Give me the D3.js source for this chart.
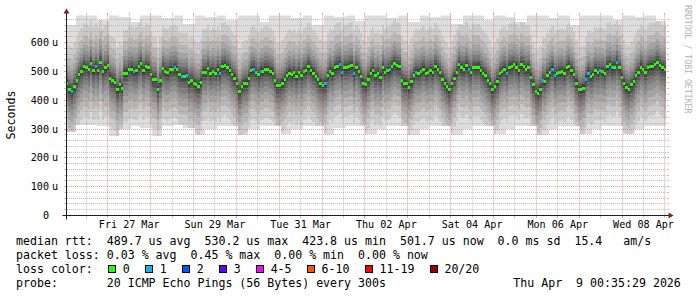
<!DOCTYPE html>
<html><head><meta charset="utf-8">
<script src="https://cdn.jsdelivr.net/npm/d3@7"></script>
<style>
body{margin:0;background:#fff}
svg{display:block}
text{font-family:"DejaVu Sans Mono",monospace;fill:#000}
</style>
</head><body>
<svg id="chart" width="697" height="297"></svg>
<script>
// ---------------- data ----------------
// median RTT in microseconds, evenly spaced over the 14-day window
const median = [
459,438,430,448,469,488,500,517,512,506,529,503,517,503,531,500,512,520,477,469,463,436,453,442,494,494,506,508,500,503,517,527,503,517,512,488,473,471,436,469,509,500,497,506,508,512,506,488,483,483,485,463,469,459,453,448,463,497,497,510,494,
500,494,508,494,517,520,512,503,488,477,459,430,448,457,459,477,503,506,497,488,501,500,508,508,500,494,469,450,450,459,471,485,494,488,497,483,497,485,500,503,517,503,494,483,471,459,450,457,485,500,494,512,517,523,497,512,512,517,520,492,512,500,
483,459,453,473,494,503,485,492,480,512,497,503,506,517,527,520,517,469,459,457,445,465,485,497,494,500,508,494,497,503,497,517,508,497,473,459,448,436,457,477,497,523,512,508,520,506,497,515,512,515,503,494,485,469,459,436,448,465,492,500,508,494,515,
517,523,515,503,523,517,508,512,480,453,430,424,438,469,465,485,497,508,485,492,497,500,494,512,517,503,488,459,438,436,442,473,492,483,488,503,497,503,500,494,517,523,512,515,531,512,480,459,445,438,453,465,485,497,515,508,497,512,517,517,523,531,520,512,506
];
// samples where 1 of 20 pings was lost (all others: 0 lost)
const lossOneIdx = [2,12,28,45,48,50,64,78,81,108,114,115,120,135,146,168,184,199,203,204,217,218,223,228,230];

// smoke outer edges (fastest / slowest ping), one value per 6-hour bucket, microseconds
const smokeBottom = [
290,315,315,310,275,300,312,305,275,312,315,305,280,300,
312,310,280,300,312,310,282,300,312,310,280,302,312,310,
282,300,312,310,280,300,312,310,280,300,312,310,282,300,
312,310,278,300,312,310,282,300,312,310,282,300,312,310];
const smokeTop = [
660,695,700,680,700,690,670,700,700,685,700,665,700,690,
700,680,700,700,670,695,700,685,700,660,700,690,700,675,
700,700,685,700,670,700,690,700,665,700,700,680,700,690,
670,700,700,685,700,660,700,695,700,680,700,690,700,675];
// typical distance of the sorted pings 2..10 below / 11..19 above the median (µs)
const lowerOffsets = [170,135,105,80,60,42,28,16,7];
const upperOffsets = [150,110,80,60,45,32,22,13,6];

const yTickValues = [0,100,200,300,400,500,600];
const yTickLabels = ["0","100","200","300","400","500","600"];
const yTickUnit = "u";
const xLabelDates = ["2026-03-27T12:00","2026-03-29T12:00","2026-03-31T12:00","2026-04-02T12:00","2026-04-04T12:00","2026-04-06T12:00","2026-04-08T12:00"];
const xLabelTexts = ["Fri 27 Mar","Sun 29 Mar","Tue 31 Mar","Thu 02 Apr","Sat 04 Apr","Mon 06 Apr","Wed 08 Apr"];

const lossLabels = ["0","1","2","3","4-5","6-10","11-19","20/20"];
const lossColors = ["#26ff00","#00b8ff","#0059ff","#5e00ff","#ff00ff","#ff5500","#ff0000","#a10000"];

const legendLines = [
  "median rtt:  489.7 us avg  530.2 us max  423.8 us min  501.7 us now  0.0 ms sd  15.4   am/s",
  "packet loss: 0.03 % avg  0.45 % max  0.00 % min  0.00 % now",
  "loss color:",
  "probe:       20 ICMP Echo Pings (56 Bytes) every 300s"
];
const dateStamp = "Thu Apr  9 00:35:29 2026";
const watermark = "RRDTOOL / TOBI OETIKER";
const yTitle = "Seconds";

// ---------------- chart ----------------
const svg = d3.select("#chart");
const end = new Date(2026, 3, 9, 0, 35, 29);
const start = new Date(end.getTime() - 14 * 86400e3);
const X0 = 66.5, X1 = 666.5, Y0 = 215.5, Y1 = 15.5;
const x = d3.scaleTime().domain([start, end]).range([66, 666]);
const y = d3.scaleLinear().domain([0, 694]).range([Y0, Y1]);

const N = median.length;
const step = (end - start) / N;
const bucketMs = 6 * 3600e3;
const pts = median.map((m, i) => {
  const t0 = new Date(start.getTime() + i * step);
  const t1 = new Date(start.getTime() + (i + 1) * step);
  const b = Math.min(smokeBottom.length - 1, Math.floor((i + 0.5) * step / bucketMs));
  const lows = [smokeBottom[b]].concat(lowerOffsets.map(o => Math.max(smokeBottom[b], m - o)));
  const highs = [smokeTop[b]].concat(upperOffsets.map(o => Math.min(smokeTop[b], m + o)));
  return {t0, t1, m, lows, highs, loss: lossOneIdx.includes(i) ? 1 : 0};
});

svg.append("defs").append("clipPath").attr("id", "plotclip")
  .append("rect").attr("x", 66).attr("y", Y1).attr("width", 600).attr("height", Y0 - Y1);

const plot = svg.append("g").attr("clip-path", "url(#plotclip)");
const bandColors = d3.range(10).map(k => {
  const c = Math.floor(190 / 10 * (10 - (k + 1))) + 50;
  return d3.rgb(c, c, c).formatHex();
});
bandColors.forEach((col, k) => {
  plot.append("g").attr("shape-rendering", "crispEdges").selectAll("rect").data(pts).join("rect")
    .attr("x", d => x(d.t0)).attr("width", d => x(d.t1) - x(d.t0))
    .attr("y", d => y(d.highs[k])).attr("height", d => Math.max(0, y(d.lows[k]) - y(d.highs[k])))
    .attr("fill", col);
});
// median blocks coloured by loss
plot.append("g").attr("shape-rendering", "crispEdges").selectAll("rect").data(pts).join("rect")
  .attr("x", d => x(d.t0)).attr("width", d => x(d.t1) - x(d.t0))
  .attr("y", d => y(d.m) - 1.5).attr("height", 3)
  .attr("fill", d => lossColors[d.loss]);

// ---------------- grid ----------------
const grid = svg.append("g");
const gridCol = "rgba(150,150,150,0.55)", mgridCol = "rgba(222,79,79,0.55)";
const snap = v => Math.floor(v) + 0.5;
function hline(v, col) {
  const yy = snap(y(v));
  grid.append("line").attr("x1", X0 - 2.5).attr("x2", X0 - 0.5).attr("y1", yy).attr("y2", yy).attr("stroke", col);
  grid.append("line").attr("x1", X1 + 0.5).attr("x2", X1 + 2.5).attr("y1", yy).attr("y2", yy).attr("stroke", col);
  grid.append("line").attr("x1", X0 + 0.5).attr("x2", X1).attr("y1", yy).attr("y2", yy).attr("stroke", col).attr("stroke-dasharray", "1 1");
}
function vline(t, col) {
  const xx = snap(x(t));
  grid.append("line").attr("x1", xx).attr("x2", xx).attr("y1", Y0 + 0.5).attr("y2", Y0 + 2.5).attr("stroke", col);
  grid.append("line").attr("x1", xx).attr("x2", xx).attr("y1", Y1 - 2.5).attr("y2", Y1 - 0.5).attr("stroke", col);
  grid.append("line").attr("x1", xx).attr("x2", xx).attr("y1", Y1).attr("y2", Y0 - 0.5).attr("stroke", col).attr("stroke-dasharray", "1 1");
}
d3.range(20, 694, 20).filter(v => v % 100 !== 0).forEach(v => hline(v, gridCol));
yTickValues.filter(v => v > 0).forEach(v => hline(v, mgridCol));
d3.timeHour.every(12).range(start, end).filter(t => t.getHours() === 12).forEach(t => vline(t, gridCol));
d3.timeDay.range(start, end).forEach(t => vline(t, mgridCol));

// ---------------- axes ----------------
const axisCol = "#1f1f1f", arrowCol = "#801f1f";
svg.append("line").attr("x1", X0 - 4).attr("x2", X1 + 4).attr("y1", Y0).attr("y2", Y0).attr("stroke", axisCol);
svg.append("line").attr("x1", X0).attr("x2", X0).attr("y1", Y0 + 4).attr("y2", Y1 - 4).attr("stroke", axisCol);
svg.append("path").attr("d", `M${X1 + 2},${Y0 - 3}L${X1 + 2},${Y0 + 3}L${X1 + 7},${Y0}Z`).attr("fill", arrowCol);
svg.append("path").attr("d", `M${X0 - 3},${Y1 - 2}L${X0 + 3},${Y1 - 2}L${X0},${Y1 - 7}Z`).attr("fill", arrowCol);

// y labels
const yl = svg.append("g").style("font-size", "10.1px");
yTickValues.forEach((v, i) => {
  yl.append("text").attr("x", 49).attr("y", y(v)).attr("dy", "0.36em").attr("text-anchor", "end").text(yTickLabels[i]);
  if (v > 0) yl.append("text").attr("x", 52).attr("y", y(v)).attr("dy", "0.36em").text(yTickUnit);
});
// x labels
const xl = svg.append("g").style("font-size", "10.1px");
xLabelDates.forEach((d, i) => {
  xl.append("text").attr("x", x(new Date(d))).attr("y", 227.8).attr("text-anchor", "middle").text(xLabelTexts[i]);
});
// y title
svg.append("text").attr("transform", `translate(15,115) rotate(-90)`).attr("text-anchor", "middle")
  .style("font-size", "11.6px").text(yTitle);
// watermark
svg.append("text").attr("transform", `translate(684.8,5) rotate(90)`).style("font-size", "8.2px")
  .style("fill", "#b4b4b4").text(watermark);

// ---------------- legend ----------------
const lg = svg.append("g").style("font-size", "11.6px").style("white-space", "pre");
legendLines.forEach((s, i) => {
  lg.append("text").attr("x", 16).attr("y", 245.4 + i * 13.95).attr("xml:space", "preserve").text(s);
});
let px = 108;
lossLabels.forEach((lab, i) => {
  lg.append("rect").attr("x", px + 0.5).attr("y", 265.5).attr("width", 7).attr("height", 7)
    .attr("fill", lossColors[i]).attr("stroke", "#000").attr("shape-rendering", "crispEdges");
  const t = lg.append("text").attr("x", px + 14.7).attr("y", 245.4 + 2 * 13.95).text(lab);
  px = px + 14.7 + t.node().getComputedTextLength() + 15.3;
});
lg.append("text").attr("x", 513.3).attr("y", 245.4 + 3 * 13.95).attr("xml:space", "preserve").text(dateStamp);
</script>
</body></html>
